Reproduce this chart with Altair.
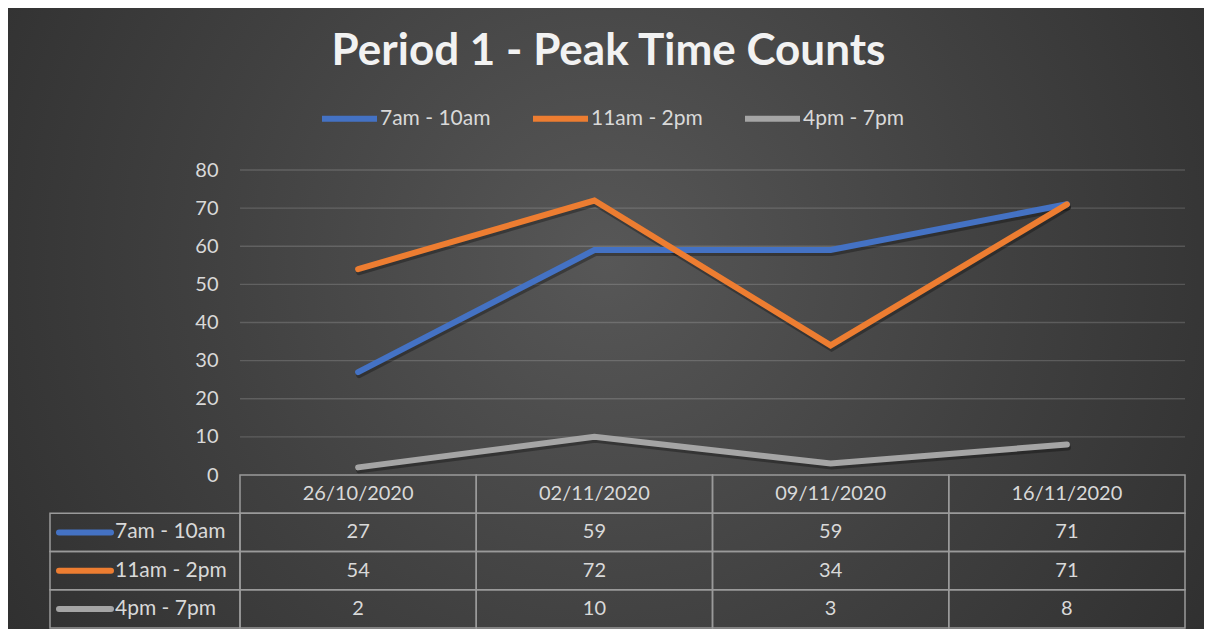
import altair as alt
import pandas as pd

# ---- data ----
dates = ["26/10/2020", "02/11/2020", "09/11/2020", "16/11/2020"]
series = ["7am - 10am", "11am - 2pm", "4pm - 7pm"]
v_morning = [27, 59, 59, 71]
v_midday = [54, 72, 34, 71]
v_evening = [2, 10, 3, 8]
colors = ["#4472C4", "#ED7D31", "#A5A5A5"]
y_ticks = [0, 10, 20, 30, 40, 50, 60, 70, 80]
title_text = "Period 1 - Peak Time Counts"

values = [v_morning, v_midday, v_evening]

# ---- tables built from the arrays ----
lines_df = pd.DataFrame(
    [{"series": s, "date": d, "value": v}
     for s, vals in zip(series, values) for d, v in zip(dates, vals)]
)
cells = [{"row": "header", "date": d, "text": d} for d in dates]
cells += [{"row": s, "date": d, "text": str(v)}
          for s, vals in zip(series, values) for d, v in zip(dates, vals)]
cells_df = pd.DataFrame(cells)
rows_df = pd.DataFrame({"row": series})
grid_df = pd.DataFrame({"value": [t for t in y_ticks if t > 0]})
bg_df = pd.DataFrame({"a": [0]})

W, H = 945, 458
LINE_H = 305
FONT = "Lato"
TXT = "#d9d9d9"
BORDER = "#9a9a9a"

x_scale = alt.Scale(domain=dates, paddingInner=0, paddingOuter=0)
y_scale = alt.Scale(domain=[0, 80], range=[LINE_H, 0], nice=False)
row_scale = alt.Scale(domain=["header"] + series, range=[LINE_H, H],
                      paddingInner=0, paddingOuter=0)
color_scale = alt.Scale(domain=series, range=colors)
y_axis = alt.Axis(values=y_ticks, grid=False, domain=False, ticks=False,
                  labelFont=FONT, labelFontSize=20, labelColor=TXT,
                  labelPadding=22, title=None, zindex=1)

bg = alt.Chart(bg_df).mark_rect(
    fill=alt.Gradient(
        gradient="radial",
        stops=[alt.GradientStop(color="#575757", offset=0),
               alt.GradientStop(color="#404040", offset=0.45),
               alt.GradientStop(color="#262626", offset=1)],
        x1=0.5, y1=0.45, r1=0, x2=0.5, y2=0.45, r2=0.75),
).encode(x=alt.value(-232), x2=alt.value(W + 19),
         y=alt.value(-162), y2=alt.value(H + 1))

grid = alt.Chart(grid_df).mark_rule(color="#ffffff", opacity=0.16, strokeWidth=1.3).encode(
    y=alt.Y("value:Q", scale=y_scale, axis=y_axis)
)

shadow = alt.Chart(lines_df).mark_line(
    color="#000000", opacity=0.3, strokeWidth=6, strokeCap="round", yOffset=3, xOffset=1
).encode(
    x=alt.X("date:N", scale=x_scale, axis=None),
    y=alt.Y("value:Q", scale=y_scale, axis=y_axis),
    detail="series:N",
)

lines = alt.Chart(lines_df).mark_line(strokeWidth=6, strokeCap="round").encode(
    x=alt.X("date:N", scale=x_scale, axis=None),
    y=alt.Y("value:Q", scale=y_scale, axis=y_axis),
    color=alt.Color("series:N", scale=color_scale,
                    legend=alt.Legend(orient="none", direction="horizontal",
                                      legendX=79, legendY=-82, title=None,
                                      symbolType="stroke", symbolSize=3025,
                                      symbolStrokeWidth=6, labelFont=FONT,
                                      labelFontSize=21, labelColor=TXT,
                                      labelOffset=0, columnPadding=30, zindex=1)),
)

top = alt.layer(bg, grid, shadow, lines)

cell_rect = alt.Chart(cells_df).mark_rect(
    fill="transparent", stroke=BORDER, strokeWidth=1.5
).encode(
    x=alt.X("date:N", scale=x_scale, axis=None),
    y=alt.Y("row:N", scale=row_scale, axis=None),
)
cell_text = alt.Chart(cells_df).mark_text(
    font=FONT, fontSize=20, color=TXT, baseline="middle"
).encode(
    x=alt.X("date:N", scale=x_scale, axis=None),
    y=alt.Y("row:N", scale=row_scale, axis=None),
    text="text:N",
)
label_rect = alt.Chart(rows_df).mark_rect(
    fill="transparent", stroke=BORDER, strokeWidth=1.5
).encode(
    x=alt.value(-190), x2=alt.value(0),
    y=alt.Y("row:N", scale=row_scale, axis=None),
)
label_sym = alt.Chart(rows_df).mark_rule(strokeWidth=6, strokeCap="round").encode(
    x=alt.value(-181), x2=alt.value(-129),
    y=alt.Y("row:N", scale=row_scale, axis=None),
    color=alt.Color("row:N", scale=color_scale, legend=None),
)
label_text = alt.Chart(rows_df).mark_text(
    font=FONT, fontSize=21, color=TXT, align="left", baseline="middle"
).encode(
    x=alt.value(-125),
    y=alt.Y("row:N", scale=row_scale, axis=None),
    text="row:N",
)

table = alt.layer(cell_rect, label_rect, label_sym, cell_text, label_text)

chart = alt.layer(top, table).resolve_scale(y="independent").properties(
    width=W, height=H,
    autosize=alt.AutoSizeParams(type="none"),
    padding={"left": 232, "top": 162, "right": 19, "bottom": 1},
    background="#2a2a2a",
    title=alt.TitleParams(title_text, font=FONT, fontSize=44, fontWeight="bold",
                          color="#f2f2f2", anchor="middle", dx=-104, dy=70, zindex=1),
).configure_view(stroke=None)

chart.save("out.html", embed_options={"renderer": "svg", "actions": False})
